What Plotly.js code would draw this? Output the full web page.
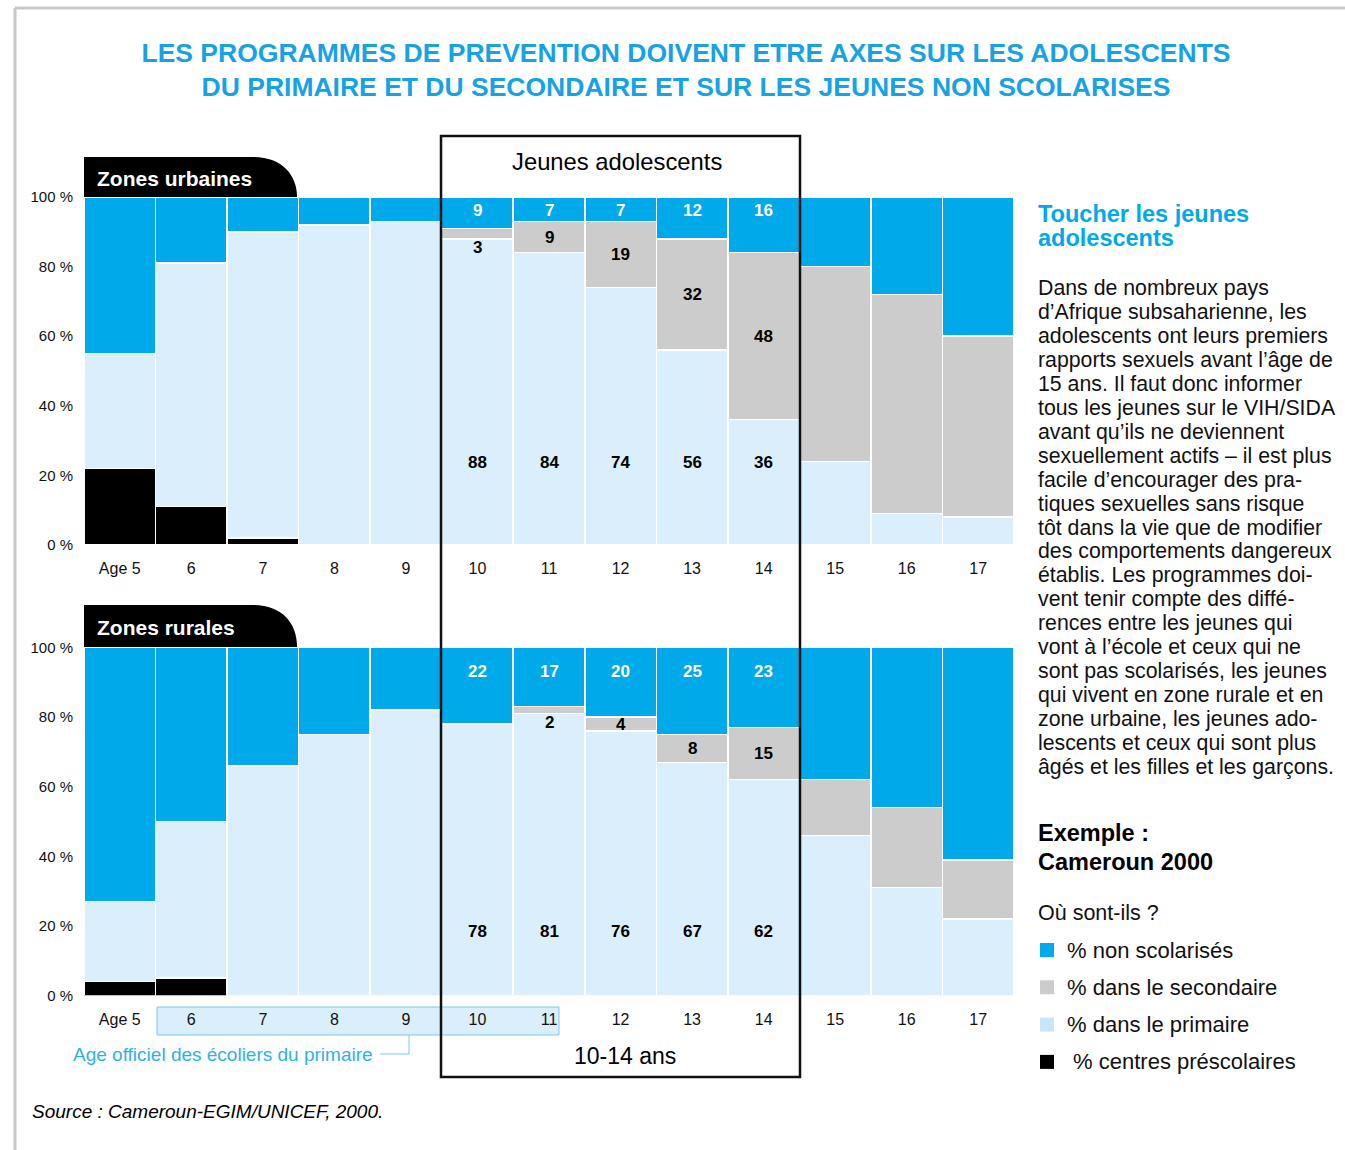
<!DOCTYPE html>
<html>
<head>
<meta charset="utf-8">
<script src="https://cdn.plot.ly/plotly-3.0.1.min.js"></script>
<style>html,body{margin:0;padding:0;background:#fff;}#chart{width:1345px;height:1150px;}</style>
</head>
<body>
<div id="chart"></div>
<script>
// ---------- DATA ----------
const ages = ['Age 5','6','7','8','9','10','11','12','13','14','15','16','17'];
const yTickVals = [0, 20, 40, 60, 80, 100];
const yTickText = ['0 %', '20 %', '40 %', '60 %', '80 %', '100 %'];

const urbanPreschool = [22, 11, 2, 0, 0, 0, 0, 0, 0, 0, 0, 0, 0];
const urbanPrimary   = [33, 70, 88, 92, 93, 88, 84, 74, 56, 36, 24, 9, 8];
const urbanSecondary = [0, 0, 0, 0, 0, 3, 9, 19, 32, 48, 56, 63, 52];
const urbanOut       = [45, 19, 10, 8, 7, 9, 7, 7, 12, 16, 20, 28, 40];

const ruralPreschool = [4, 5, 0, 0, 0, 0, 0, 0, 0, 0, 0, 0, 0];
const ruralPrimary   = [23, 45, 66, 75, 82, 78, 81, 76, 67, 62, 46, 31, 22];
const ruralSecondary = [0, 0, 0, 0, 0, 0, 2, 4, 8, 15, 16, 23, 17];
const ruralOut       = [73, 50, 34, 25, 18, 22, 17, 20, 25, 23, 38, 46, 61];

const labelledAges = ['10', '11', '12', '13', '14'];

const seriesNames = ['% centres préscolaires', '% dans le primaire', '% dans le secondaire', '% non scolarisés'];
const legendOrder = ['% non scolarisés', '% dans le secondaire', '% dans le primaire', ' % centres préscolaires'];

const titleLines = ['LES PROGRAMMES DE PREVENTION DOIVENT ETRE AXES SUR LES ADOLESCENTS',
                    'DU PRIMAIRE ET DU SECONDAIRE ET SUR LES JEUNES NON SCOLARISES'];
const sideHeading = ['Toucher les jeunes', 'adolescents'];
const bodyLines = [
  'Dans de nombreux pays',
  'd’Afrique subsaharienne, les',
  'adolescents ont leurs premiers',
  'rapports sexuels avant l’âge de',
  '15 ans. Il faut donc informer',
  'tous les jeunes sur le VIH/SIDA',
  'avant qu’ils ne deviennent',
  'sexuellement actifs – il est plus',
  'facile d’encourager des pra-',
  'tiques sexuelles sans risque',
  'tôt dans la vie que de modifier',
  'des comportements dangereux',
  'établis. Les programmes doi-',
  'vent tenir compte des diffé-',
  'rences entre les jeunes qui',
  'vont à l’école et ceux qui ne',
  'sont pas scolarisés, les jeunes',
  'qui vivent en zone rurale et en',
  'zone urbaine, les jeunes ado-',
  'lescents et ceux qui sont plus',
  'âgés et les filles et les garçons.'
];

// ---------- STYLE ----------
const W = 1345, H = 1150;
const C_OUT = '#00a9e9', C_SEC = '#cccccc', C_PRI = '#dbeefb', C_PRE = '#000000';
const C_TITLE = '#17a2e6';
const colors = [C_PRE, C_PRI, C_SEC, C_OUT];
const FONT = 'Liberation Sans, Arial, Helvetica, sans-serif';
const NARROW = 'Liberation Sans Narrow, Arial Narrow, Liberation Sans, Arial, sans-serif';
const px = x => x / W;
const py = y => 1 - y / H;

function makeTraces(vals, xa, ya) {
  return vals.map((v, i) => ({
    type: 'bar', x: ages, y: v, name: seriesNames[i], xaxis: xa, yaxis: ya,
    marker: {color: colors[i], line: {color: '#ffffff', width: 1.5}},
    showlegend: false, hoverinfo: 'skip'
  }));
}
const traces = [
  ...makeTraces([urbanPreschool, urbanPrimary, urbanSecondary, urbanOut], 'x', 'y'),
  ...makeTraces([ruralPreschool, ruralPrimary, ruralSecondary, ruralOut], 'x2', 'y2')
];

const annotations = [];
function barLabels(pri, sec, out, xr, yr, outY, priY) {
  labelledAges.forEach(a => {
    const i = ages.indexOf(a);
    annotations.push({xref: xr, yref: yr, x: i, y: outY, text: String(out[i]), showarrow: false,
      font: {family: FONT, size: 17, color: '#ffffff', weight: 'bold'}});
    if (sec[i] > 0) {
      const sy = sec[i] < 4 ? pri[i] - 2.5 : pri[i] + sec[i] / 2;
      annotations.push({xref: xr, yref: yr, x: i, y: sy, text: String(sec[i]), showarrow: false,
        font: {family: FONT, size: 17, color: '#000000', weight: 'bold'}});
    }
    annotations.push({xref: xr, yref: yr, x: i, y: priY, text: String(pri[i]), showarrow: false,
      font: {family: FONT, size: 17, color: '#000000', weight: 'bold'}});
  });
}
barLabels(urbanPrimary, urbanSecondary, urbanOut, 'x', 'y', 96, 23.6);
barLabels(ruralPrimary, ruralSecondary, ruralOut, 'x2', 'y2', 93.2, 18.5);

function txt(x, y, text, size, color, opts) {
  annotations.push(Object.assign({xref: 'paper', yref: 'paper', x: px(x), y: py(y), text: text,
    showarrow: false, xanchor: 'left', yanchor: 'middle',
    font: {family: FONT, size: size, color: color}}, opts || {}));
}
// tabs
txt(95, 179, 'Zones urbaines', 21, '#ffffff', {font: {family: FONT, size: 21, color: '#fff', weight: 'bold'}});
txt(95, 627, 'Zones rurales', 21, '#ffffff', {font: {family: FONT, size: 21, color: '#fff', weight: 'bold'}});
// box texts
txt(617, 161, 'Jeunes adolescents', 23.8, '#000', {xanchor: 'center'});
txt(625, 1056, '10-14 ans', 23, '#000', {xanchor: 'center'});
txt(375, 1054, 'Age officiel des écoliers du primaire', 19, '#2fb0ea', {xanchor: 'right'});
txt(30, 1111, '<i>Source : Cameroun-EGIM/UNICEF, 2000.</i>', 19, '#000');
// side panel
sideHeading.forEach((t, k) => txt(1036, 214 + 24 * k, t, 23.5, C_OUT, {font: {family: FONT, size: 23.5, color: C_OUT, weight: 'bold'}}));
bodyLines.forEach((t, k) => txt(1036, 288 + 23.95 * k, t, 21.3, '#111'));
txt(1036, 833, 'Exemple :', 23.5, '#000', {font: {family: FONT, size: 23.5, color: '#000', weight: 'bold'}});
txt(1036, 862, 'Cameroun 2000', 23.5, '#000', {font: {family: FONT, size: 23.5, color: '#000', weight: 'bold'}});
txt(1036, 913, 'Où sont-ils ?', 21.5, '#111');
const legendColors = [C_OUT, C_SEC, '#c9e6f8', C_PRE];
const shapes = [];
legendOrder.forEach((t, k) => {
  const yy = 950 + 37.3 * k;
  txt(1065, yy, t, 22, '#111');
  shapes.push({type: 'rect', xref: 'paper', yref: 'paper', x0: px(1040), x1: px(1054), y0: py(yy - 7), y1: py(yy + 7),
    fillcolor: legendColors[k], line: {width: 0}});
});

// frame lines
shapes.push({type: 'line', xref: 'paper', yref: 'paper', x0: px(15), x1: px(15), y0: py(8), y1: py(1150), line: {color: '#c8c8c8', width: 3}});
shapes.push({type: 'line', xref: 'paper', yref: 'paper', x0: px(15), x1: px(1345), y0: py(8), y1: py(8), line: {color: '#c8c8c8', width: 3}});
// tabs (black, rounded top-right)
function tab(top, bottom) {
  const p = `M ${px(84)},${py(bottom)} L ${px(84)},${py(top)} L ${px(253)},${py(top)} C ${px(282)},${py(top)} ${px(297)},${py(top + 18)} ${px(297)},${py(bottom)} Z`;
  shapes.push({type: 'path', xref: 'paper', yref: 'paper', path: p, fillcolor: '#000', line: {width: 0}, layer: 'below'});
}
tab(157, 197);
tab(605, 647);
// primary school official age box
shapes.push({type: 'rect', xref: 'paper', yref: 'paper', x0: px(157), x1: px(559), y0: py(1035), y1: py(1007),
  fillcolor: '#dbeefb', line: {color: '#7cc8ee', width: 1}, layer: 'below'});
shapes.push({type: 'path', xref: 'paper', yref: 'paper',
  path: `M ${px(380)},${py(1054)} L ${px(409)},${py(1054)} L ${px(409)},${py(1035)}`,
  line: {color: '#7cc8ee', width: 1}, layer: 'below'});
// Jeunes adolescents frame
shapes.push({type: 'rect', xref: 'paper', yref: 'paper', x0: px(441), x1: px(800), y0: py(1077), y1: py(136),
  line: {color: '#111', width: 2.5}, fillcolor: 'rgba(0,0,0,0)', layer: 'above'});

const xAxisCommon = {type: 'category', range: [-0.5, 12.5], showgrid: false, zeroline: false, showline: false, ticks: '',
  ticklabelstandoff: 12, tickfont: {family: NARROW, size: 16, color: '#111'}, fixedrange: true};
const yAxisCommon = {range: [0, 100], tickvals: yTickVals, ticktext: yTickText, showgrid: false, zeroline: false,
  showline: false, ticks: '', ticklabelstandoff: 10, tickfont: {family: NARROW, size: 15, color: '#111'}, fixedrange: true};

const layout = {
  width: W, height: H, margin: {l: 0, r: 0, t: 0, b: 0},
  paper_bgcolor: '#ffffff', plot_bgcolor: 'rgba(0,0,0,0)',
  barmode: 'stack', bargap: 0,
  title: {text: titleLines.join('<br>'), x: px(686), xanchor: 'center', y: py(62), yanchor: 'middle',
    font: {family: FONT, size: 26.5, color: C_TITLE, weight: 'bold'}},
  xaxis: Object.assign({}, xAxisCommon, {domain: [px(84), px(1014)], anchor: 'y'}),
  yaxis: Object.assign({}, yAxisCommon, {domain: [py(545), py(197)], anchor: 'x'}),
  xaxis2: Object.assign({}, xAxisCommon, {domain: [px(84), px(1014)], anchor: 'y2'}),
  yaxis2: Object.assign({}, yAxisCommon, {domain: [py(995.5), py(647.5)], anchor: 'x2'}),
  annotations: annotations,
  shapes: shapes,
  showlegend: false
};

Plotly.newPlot('chart', traces, layout, {displayModeBar: false, staticPlot: true});
</script>
</body>
</html>
